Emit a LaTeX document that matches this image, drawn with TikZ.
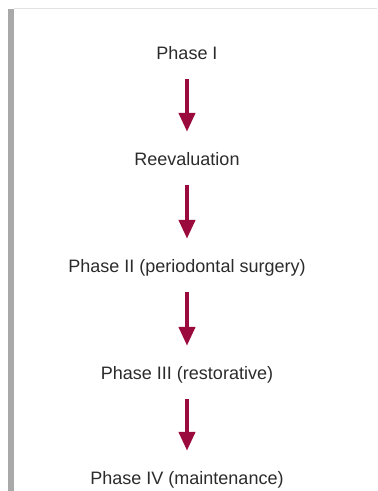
\documentclass[tikz,border=0pt]{standalone}
\usepackage{fontspec}
\setmainfont{Liberation Sans}
\usetikzlibrary{arrows.meta}
\definecolor{arrowred}{HTML}{9B0A3C}
\definecolor{txtgrey}{HTML}{2B2B2B}
\definecolor{barGrey}{HTML}{A9A9A9}
\definecolor{ruleGrey}{HTML}{E2E2E2}
\begin{document}
\begin{tikzpicture}[x=1pt,y=1pt,
  phase/.style={anchor=base, inner sep=0pt, text height=13pt, text depth=4pt,
    font=\fontsize{18}{21}\selectfont, text=txtgrey},
  flow/.style={draw=arrowred, line width=4.3pt,
    -{Triangle[width=16pt,length=19pt]}, arrowred,
    shorten <=15pt, shorten >=21pt}]
\useasboundingbox (0,0) rectangle (378,491);
% left bar and top rule
\fill[barGrey] (8,0) rectangle (14,482);
\draw[ruleGrey, line width=1pt] (14,482) -- (377,482);
% nodes (baselines)
\node[phase] (p1) at (187,431) {Phase I};
\node[phase] (p2) at (187,325) {Reevaluation};
\node[phase] (p3) at (187,218) {Phase II (periodontal surgery)};
\node[phase] (p4) at (187,111) {Phase III (restorative)};
\node[phase] (p5) at (187,6) {Phase IV (maintenance)};
% arrows
\draw[flow] (p1.south) -- (p2.north);
\draw[flow] (p2.south) -- (p3.north);
\draw[flow] (p3.south) -- (p4.north);
\draw[flow] (p4.south) -- (p5.north);
\end{tikzpicture}
\end{document}
